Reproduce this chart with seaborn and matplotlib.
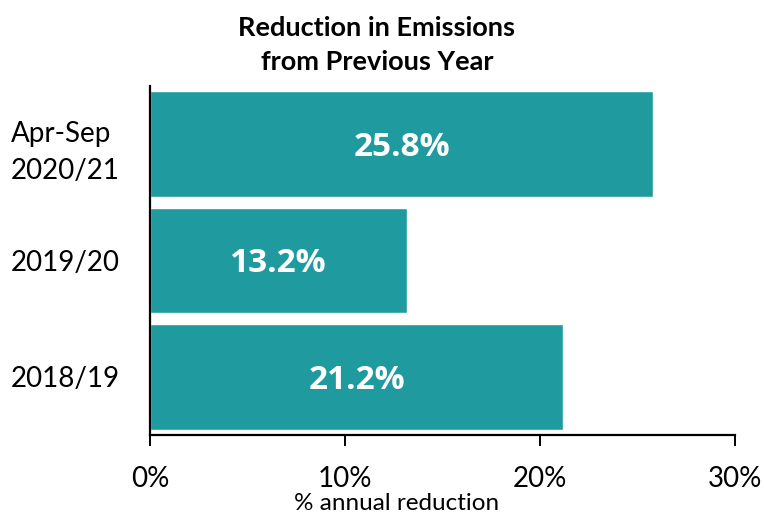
import matplotlib
matplotlib.use("Agg")
import matplotlib.pyplot as plt
import seaborn as sns
import pandas as pd
from matplotlib.ticker import FuncFormatter

categories = ["Apr-Sep\n2020/21", "2019/20", "2018/19"]
values = [25.8, 13.2, 21.2]
bar_labels = ["25.8%", "13.2%", "21.2%"]
xticks = [0, 10, 20, 30]

sns.set_theme(style="white")
plt.rcParams['font.family'] = ['Lato', 'DejaVu Sans']
plt.rcParams['text.color'] = 'black'

df = pd.DataFrame({"cat": categories, "val": values})

fig = plt.figure(figsize=(7.64, 5.13), dpi=100)
ax = fig.add_axes([150/764, 1-435/513, 585/764, 349/513])
sns.barplot(data=df, x="val", y="cat", orient="h", color="#1F9BA0",
            saturation=1, width=0.91, ax=ax)
ax.set_xlim(0, 30)
ax.set_ylim(2.5, -0.5)
ax.set_xticks(xticks)
ax.xaxis.set_major_formatter(FuncFormatter(lambda v, p: f"{v:.0f}%"))
ax.set_xlabel("")
ax.set_ylabel("")
for s in ["top", "right"]:
    ax.spines[s].set_visible(False)
for s in ["left", "bottom"]:
    ax.spines[s].set_color("black")
    ax.spines[s].set_linewidth(1.6)
ax.tick_params(axis="x", which="major", length=8, width=1.4, direction="out",
               labelsize=20, pad=14, colors="black", bottom=True)
ax.tick_params(axis="y", length=0, labelsize=20, pad=22, colors="black")
for t in ax.get_yticklabels():
    t.set_multialignment("left")
    t.set_linespacing(1.55)

for i, (v, lab) in enumerate(zip(values, bar_labels)):
    ax.text(v/2, i + 0.03, lab, ha="center", va="center", color="white",
            fontsize=24, fontweight="bold", family=["Open Sans", "DejaVu Sans"])

fig.text(377/764, 1-45/513, "Reduction in Emissions\nfrom Previous Year", ha="center",
         va="center", fontsize=19.5, fontweight="bold", linespacing=1.45, color="black")
fig.text(397/764, 1-503/513, "% annual reduction", ha="center", va="center",
         fontsize=17.5, color="black")

fig.savefig("out.png", dpi=100)
